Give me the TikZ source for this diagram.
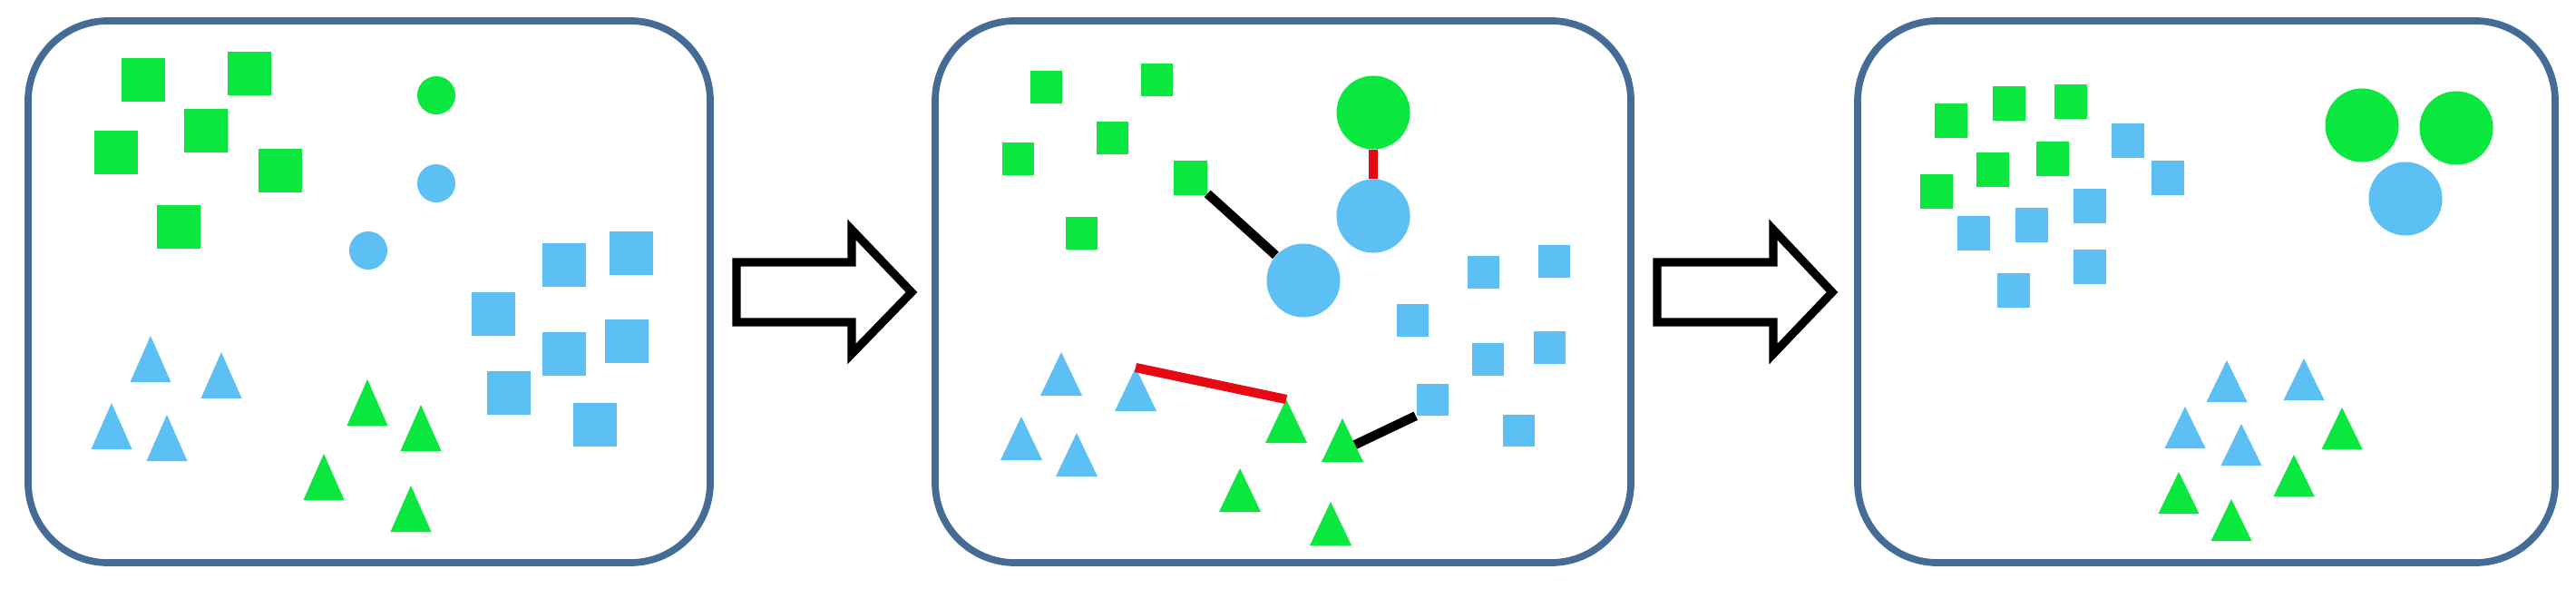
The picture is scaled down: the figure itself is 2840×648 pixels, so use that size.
\documentclass[tikz,border=0pt]{standalone}
\usetikzlibrary{shapes.geometric}
\definecolor{gcol}{RGB}{10,232,64}
\definecolor{bcol}{RGB}{92,192,245}
\definecolor{framecol}{RGB}{68,108,150}
\definecolor{redcol}{RGB}{232,8,20}
\newcommand{\mytri}[5]{\coordinate (#2) at (#3); \fill[#1] (#2) -- ++(-#4,#5) -- ++(2*#4,0) -- cycle;}
\tikzset{
  panel/.style={draw=framecol, line width=2.2pt, rounded corners=0.88cm},
  sqA/.style={rectangle, inner sep=0pt, minimum size=0.48cm},
  sqB/.style={rectangle, inner sep=0pt, minimum size=0.35cm},
  sqC/.style={rectangle, inner sep=0pt, minimum width=0.36cm, minimum height=0.38cm},
  dotA/.style={circle, inner sep=0pt, minimum size=0.42cm},
  dotB/.style={circle, inner sep=0pt, minimum size=0.81cm},
  bigarrow/.style={draw=black, line width=2.6pt, fill=white, miter limit=10},
  link/.style={line width=2.9pt},
}
\begin{document}
\begin{tikzpicture}[x=0.01cm, y=-0.01cm]
\useasboundingbox (0,0) rectangle (2840,648);
% ---------- panel 1 ----------
\draw[panel] (31,23) rectangle (783,620);
\node[sqA, fill=gcol] (p1g1) at (158,88) {};
\node[sqA, fill=gcol] (p1g2) at (275,81) {};
\node[sqA, fill=gcol] (p1g3) at (227,144) {};
\node[sqA, fill=gcol] (p1g4) at (128,168) {};
\node[sqA, fill=gcol] (p1g5) at (309,188) {};
\node[sqA, fill=gcol] (p1g6) at (197,250) {};
\node[dotA, fill=gcol] (p1c1) at (481,105) {};
\node[dotA, fill=bcol] (p1c2) at (481,202) {};
\node[dotA, fill=bcol] (p1c3) at (406,276) {};
\node[sqA, fill=bcol] (p1b1) at (622,292) {};
\node[sqA, fill=bcol] (p1b2) at (696,279) {};
\node[sqA, fill=bcol] (p1b3) at (544,346) {};
\node[sqA, fill=bcol] (p1b4) at (622,390) {};
\node[sqA, fill=bcol] (p1b5) at (691,376) {};
\node[sqA, fill=bcol] (p1b6) at (561,433) {};
\node[sqA, fill=bcol] (p1b7) at (656,468) {};
\mytri{bcol}{p1t1}{166,370}{22.5}{51}
\mytri{bcol}{p1t2}{244,388}{22.5}{51}
\mytri{bcol}{p1t3}{123,444}{22.5}{51}
\mytri{bcol}{p1t4}{184,457}{22.5}{51}
\mytri{gcol}{p1t5}{405,418}{22.5}{51}
\mytri{gcol}{p1t6}{464,446}{22.5}{51}
\mytri{gcol}{p1t7}{357,500}{22.5}{51}
\mytri{gcol}{p1t8}{453,535}{22.5}{51}
% ---------- arrow 1 ----------
\draw[bigarrow] (812,289) -- (939,289) -- (939,253) -- (1005,322) -- (939,390) -- (939,355) -- (812,355) -- cycle;
% ---------- panel 2 ----------
\draw[panel] (1031,23) rectangle (1798,620);
\node[sqB, fill=gcol] (p2g1) at (1153,96) {};
\node[sqB, fill=gcol] (p2g2) at (1275,88) {};
\node[sqB, fill=gcol] (p2g3) at (1226,152) {};
\node[sqB, fill=gcol] (p2g4) at (1122,175) {};
\node[sqB, fill=gcol, minimum size=0.37cm] (p2g5) at (1312,196) {};
\node[sqB, fill=gcol] (p2g6) at (1192,257) {};
\node[dotB, fill=gcol] (p2c1) at (1514,124) {};
\node[dotB, fill=bcol] (p2c2) at (1514,238) {};
\node[dotB, fill=bcol] (p2c3) at (1437,309) {};
\node[sqB, fill=bcol] (p2b1) at (1635,300) {};
\node[sqB, fill=bcol] (p2b2) at (1713,288) {};
\node[sqB, fill=bcol] (p2b3) at (1557,353) {};
\node[sqB, fill=bcol] (p2b4) at (1640,396) {};
\node[sqB, fill=bcol] (p2b5) at (1708,383) {};
\node[sqB, fill=bcol] (p2b6) at (1579,440) {};
\node[sqB, fill=bcol] (p2b7) at (1674,474) {};
\mytri{bcol}{p2t1}{1170,388}{23}{48}
\mytri{bcol}{p2t2}{1252,405}{23}{48}
\mytri{bcol}{p2t3}{1126,459}{23}{48}
\mytri{bcol}{p2t4}{1187,477}{23}{48}
\mytri{gcol}{p2t5}{1418,440}{23}{48}
\mytri{gcol}{p2t6}{1480,461}{23}{48}
\mytri{gcol}{p2t7}{1367,516}{23}{48}
\mytri{gcol}{p2t8}{1467,553}{23}{48}
\coordinate (p2end) at (1494,490);
\draw[link, redcol] (p2c1) -- (p2c2);
\draw[link, black] (p2g5) -- (p2c3);
\draw[link, redcol] (p2t2) -- (p2t5);
\draw[link, black] (p2b6.south west) -- (p2end);
% ---------- arrow 2 ----------
\draw[bigarrow] (1827,289) -- (1955,289) -- (1955,253) -- (2020,322) -- (1955,390) -- (1955,355) -- (1827,355) -- cycle;
% ---------- panel 3 ----------
\draw[panel] (2048,23) rectangle (2817,620);
\node[sqC, fill=gcol] (p3g1) at (2151,133) {};
\node[sqC, fill=gcol] (p3g2) at (2215,114) {};
\node[sqC, fill=gcol] (p3g3) at (2283,112) {};
\node[sqC, fill=gcol] (p3g4) at (2197,187) {};
\node[sqC, fill=gcol] (p3g5) at (2263,175) {};
\node[sqC, fill=gcol] (p3g6) at (2135,211) {};
\node[sqC, fill=bcol] (p3b1) at (2346,155) {};
\node[sqC, fill=bcol] (p3b2) at (2390,196) {};
\node[sqC, fill=bcol] (p3b3) at (2304,227) {};
\node[sqC, fill=bcol] (p3b4) at (2240,248) {};
\node[sqC, fill=bcol] (p3b5) at (2176,257) {};
\node[sqC, fill=bcol] (p3b6) at (2304,294) {};
\node[sqC, fill=bcol] (p3b7) at (2220,320) {};
\node[dotB, fill=gcol] (p3c1) at (2604,138) {};
\node[dotB, fill=gcol] (p3c2) at (2708,141) {};
\node[dotB, fill=bcol] (p3c3) at (2652,219) {};
\mytri{bcol}{p3t1}{2455,397}{22.5}{46}
\mytri{bcol}{p3t2}{2540,395}{22.5}{46}
\mytri{bcol}{p3t3}{2409,448}{22.5}{46}
\mytri{bcol}{p3t4}{2471,467}{22.5}{46}
\mytri{gcol}{p3t5}{2582,449}{22.5}{46}
\mytri{gcol}{p3t6}{2529,501}{22.5}{46}
\mytri{gcol}{p3t7}{2402,520}{22.5}{46}
\mytri{gcol}{p3t8}{2460,550}{22.5}{46}
\end{tikzpicture}
\end{document}
